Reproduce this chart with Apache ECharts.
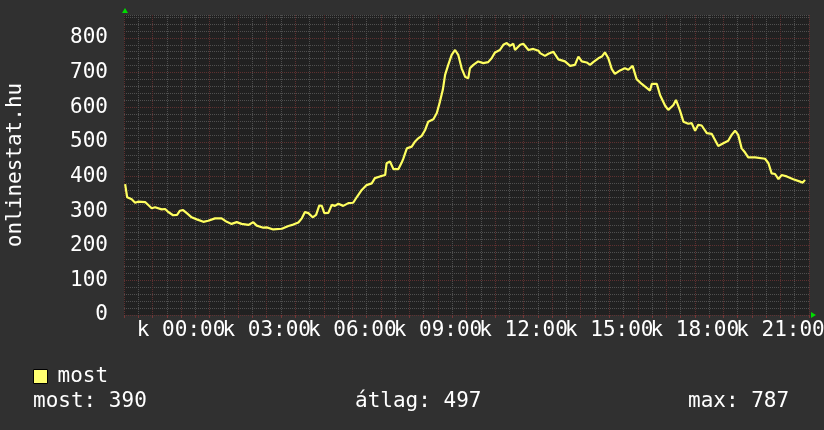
<!DOCTYPE html>
<html>
<head>
<meta charset="utf-8">
<script src="https://cdn.jsdelivr.net/npm/echarts@6/dist/echarts.min.js"></script>
<style>
  html, body { margin: 0; padding: 0; background: #303030; }
  #chart { width: 824px; height: 430px; }
</style>
</head>
<body>
<div id="chart"></div>
<script>
// hours relative to 00:00 (negative = previous evening)
var hours = [
  -1.96, -1.89, -1.73, -1.61, -1.51, -1.26, -1.03, -0.91, -0.68, -0.56,
  -0.46, -0.28, -0.14, -0.04, 0.07, 0.20, 0.37, 0.55, 0.78, 0.95,
  1.19, 1.42, 1.60, 1.77, 1.95, 2.12, 2.36, 2.53, 2.65, 2.88,
  3.00, 3.23, 3.53, 3.76, 3.93, 4.11, 4.23, 4.34, 4.46, 4.61,
  4.73, 4.84, 4.93, 5.02, 5.16, 5.28, 5.39, 5.51, 5.68, 5.86,
  6.03, 6.17, 6.33, 6.50, 6.68, 6.79, 6.97, 7.15, 7.20, 7.32,
  7.44, 7.61, 7.73, 7.79, 7.91, 8.08, 8.20, 8.31, 8.43, 8.55,
  8.66, 8.84, 8.96, 9.07, 9.17, 9.25, 9.36, 9.48, 9.60, 9.71,
  9.83, 9.95, 10.06, 10.12, 10.24, 10.41, 10.59, 10.76, 10.88, 11.00,
  11.17, 11.29, 11.41, 11.52, 11.64, 11.70, 11.88, 11.99, 12.17, 12.34,
  12.52, 12.58, 12.75, 12.87, 13.04, 13.22, 13.45, 13.63, 13.80, 13.92,
  14.04, 14.21, 14.33, 14.44, 14.62, 14.74, 14.85, 14.97, 15.09, 15.20,
  15.38, 15.55, 15.67, 15.82, 15.96, 16.14, 16.26, 16.43, 16.49, 16.67,
  16.78, 16.96, 17.07, 17.25, 17.34, 17.48, 17.60, 17.77, 17.89, 18.01,
  18.12, 18.24, 18.42, 18.59, 18.82, 19.00, 19.17, 19.29, 19.41, 19.52,
  19.64, 19.76, 19.87, 20.11, 20.46, 20.58, 20.69, 20.81, 20.93, 21.04,
  21.22, 21.45, 21.69, 21.78, 21.86
]
var most = [
  378, 340, 334, 324, 327, 326, 308, 311, 305, 306,
  298, 288, 289, 301, 303, 294, 282, 276, 269, 272,
  279, 279, 269, 263, 268, 263, 260, 268, 258, 252,
  253, 247, 249, 257, 261, 267, 279, 297, 294, 282,
  289, 316, 315, 294, 295, 318, 315, 321, 315, 323,
  324, 342, 361, 375, 380, 395, 400, 404, 438, 443,
  421, 421, 440, 452, 481, 486, 501, 510, 517, 534,
  558, 565, 583, 616, 650, 693, 722, 751, 765, 751,
  712, 688, 683, 712, 722, 732, 727, 730, 741, 758,
  765, 780, 785, 777, 783, 765, 780, 783, 765, 768,
  763, 756, 748, 754, 760, 738, 732, 719, 722, 746,
  732, 729, 722, 730, 741, 746, 758, 741, 710, 696,
  706, 712, 708, 719, 681, 667, 659, 648, 667, 667,
  635, 604, 592, 606, 621, 590, 558, 552, 554, 532,
  549, 547, 525, 523, 488, 496, 503, 520, 532, 520,
  481, 469, 455, 455, 451, 438, 409, 407, 392, 404,
  400, 392, 385, 382, 390
]
var labelHours = [0, 3, 6, 9, 12, 15, 18, 21]
var stats = ['most: 390', 'átlag: 497', 'max: 787']

var font = '"DejaVu Sans Mono", monospace'
var majorColor = '#5e3030'
var minorColor = '#4f4f4f'

var chart = echarts.init(document.getElementById('chart'))
chart.setOption({
  backgroundColor: '#303030',
  animation: false,
  textStyle: { fontFamily: font },
  grid: {
    left: 124,
    right: 15,
    top: 15,
    bottom: 115,
    outerBoundsMode: 'none',
    containLabel: false,
    show: true,
    backgroundColor: '#212121',
    borderWidth: 0
  },
  legend: {
    data: ['most'],
    left: 28,
    top: 361,
    icon: 'rect',
    itemWidth: 14,
    itemHeight: 14,
    itemStyle: { borderColor: '#000', borderWidth: 1 },
    textStyle: { color: '#fff', fontSize: 21, fontFamily: font, padding: [0, 0, 0, 5] }
  },
  xAxis: {
    type: 'value',
    min: -2,
    max: 22,
    interval: 0.5,
    axisLine: { show: false },
    axisTick: { show: true, length: 3, lineStyle: { color: '#733838' } },
    axisLabel: {
      color: '#fff',
      fontSize: 21,
      fontFamily: font,
      margin: 5,
      showMinLabel: true,
      showMaxLabel: true,
      formatter: function (v) {
        if (labelHours.indexOf(v) < 0) return ''
        return 'k ' + (v < 10 ? '0' + v : v) + ':00'
      }
    },
    splitLine: {
      show: true,
      lineStyle: { color: [majorColor, minorColor], type: [1, 1], width: 1 }
    }
  },
  yAxis: {
    type: 'value',
    min: 0,
    max: 866,
    interval: 20,
    name: 'onlinestat.hu',
    nameLocation: 'middle',
    nameRotate: 90,
    nameGap: 98,
    nameTextStyle: { color: '#fff', fontSize: 21, fontFamily: font },
    axisLine: { show: false },
    axisTick: { show: false },
    axisLabel: {
      color: '#fff',
      fontSize: 21,
      fontFamily: font,
      margin: 16,
      formatter: function (v) { return v % 100 === 0 ? v : '' }
    },
    splitLine: {
      show: true,
      lineStyle: {
        color: [majorColor, minorColor, minorColor, minorColor, minorColor],
        type: [1, 1],
        width: 1
      }
    }
  },
  graphic: [
    { type: 'polygon', shape: { points: [[122, 13], [128, 13], [125, 8]] }, style: { fill: '#00dd00' }, silent: true },
    { type: 'polygon', shape: { points: [[811, 312], [811, 318], [816, 315]] }, style: { fill: '#00dd00' }, silent: true },
    { type: 'text', left: 33, top: 391, style: { text: stats[0], fill: '#fff', font: '21px ' + font } },
    { type: 'text', left: 355, top: 391, style: { text: stats[1], fill: '#fff', font: '21px ' + font } },
    { type: 'text', left: 688, top: 391, style: { text: stats[2], fill: '#fff', font: '21px ' + font } }
  ],
  series: [{
    name: 'most',
    type: 'line',
    showSymbol: false,
    color: '#ffff70',
    lineStyle: { color: '#ffff60', width: 2.2 },
    data: hours.map(function (h, i) { return [h, most[i]] })
  }]
})
</script>
</body>
</html>
